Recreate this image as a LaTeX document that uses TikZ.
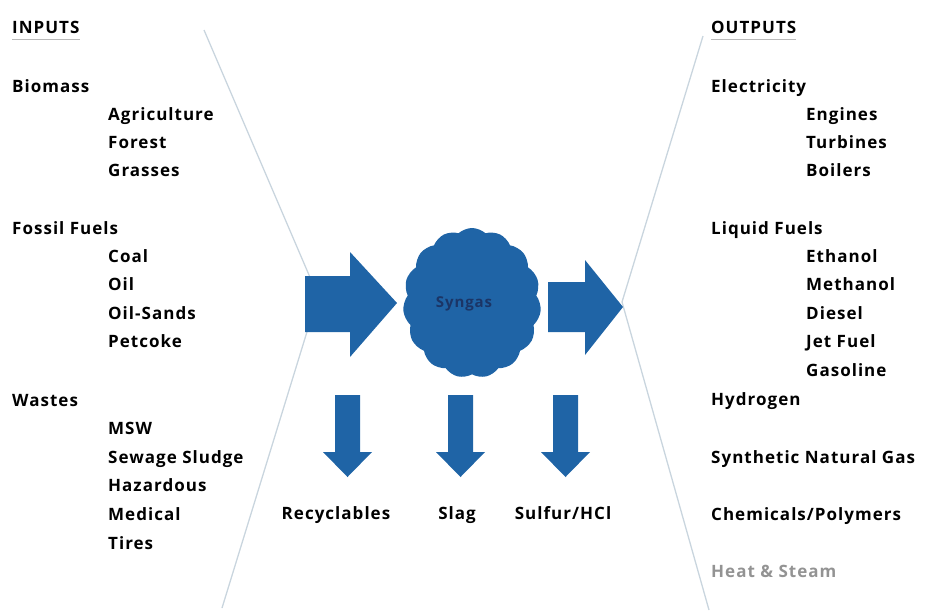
\documentclass[tikz,border=0pt]{standalone}
\usepackage{fontspec}
\setmainfont{Open Sans}[UprightFont=* Bold, LetterSpace=6]
\usetikzlibrary{shapes.symbols}
\definecolor{flowblue}{HTML}{1F64A6}
\definecolor{guide}{HTML}{C9D5DE}
\definecolor{navy}{HTML}{1B3566}
\tikzset{
  lbl/.style={anchor=west, inner sep=0pt, text height=12pt, text depth=0pt,
              font=\fontsize{17}{19}\selectfont, text=black},
  guideline/.style={draw=guide, line width=1.3pt},
  blockarrow/.style={fill=flowblue, draw=none},
  headline/.style={lbl, text=black},
  uline/.style={draw=gray!55, line width=1.2pt}
}
\begin{document}
\begin{tikzpicture}[x=1pt,y=-1pt]
\useasboundingbox (0,0) rectangle (925,614);
% guide lines
\coordinate (LT) at (204,30);
\coordinate (LM) at (318,296);
\coordinate (LB) at (222,608);
\coordinate (RT) at (703,36);
\coordinate (RM) at (622,302);
\coordinate (RB) at (709,610);
\draw[guideline] (LT) -- (LM) -- (LB);
\draw[guideline] (RT) -- (RM) -- (RB);

% left inputs
\node[headline] (inputs) at (12,27) {INPUTS};
\draw[uline] ([yshift=-6pt]inputs.south west) -- ([yshift=-6pt]inputs.south east);
\node[lbl] (biomass) at (12,86) {Biomass};
\node[lbl] (agri) at (108,114) {Agriculture};
\node[lbl] (forest) at (108,142) {Forest};
\node[lbl] (grass) at (108,170) {Grasses};
\node[lbl] (fossil) at (12,228) {Fossil Fuels};
\node[lbl] (coal) at (108,256) {Coal};
\node[lbl] (oil) at (108,284) {Oil};
\node[lbl] (oilsands) at (108,313) {Oil-Sands};
\node[lbl] (petcoke) at (108,341) {Petcoke};
\node[lbl] (wastes) at (12,400) {Wastes};
\node[lbl] (msw) at (108,428) {MSW};
\node[lbl] (sewage) at (108,457) {Sewage Sludge};
\node[lbl] (haz) at (108,485) {Hazardous};
\node[lbl] (med) at (108,514) {Medical};
\node[lbl] (tires) at (108,543) {Tires};

% right outputs
\node[headline] (outputs) at (711,27) {OUTPUTS};
\draw[uline] ([yshift=-6pt]outputs.south west) -- ([yshift=-6pt]outputs.south east);
\node[lbl] (elec) at (711,86) {Electricity};
\node[lbl] (engines) at (806,114) {Engines};
\node[lbl] (turb) at (806,142) {Turbines};
\node[lbl] (boil) at (806,170) {Boilers};
\node[lbl] (liquid) at (711,228) {Liquid Fuels};
\node[lbl] (ethanol) at (806,256) {Ethanol};
\node[lbl] (methanol) at (806,284) {Methanol};
\node[lbl] (diesel) at (806,313) {Diesel};
\node[lbl] (jet) at (806,341) {Jet Fuel};
\node[lbl] (gasoline) at (806,370) {Gasoline};
\node[lbl] (hydrogen) at (711,399) {Hydrogen};
\node[lbl] (sng) at (711,457) {Synthetic Natural Gas};
\node[lbl] (chem) at (711,514) {Chemicals/Polymers};
\node[lbl, text=gray!85] (heat) at (711,571) {Heat \& Steam};

% cloud
\node[cloud, cloud puffs=15, cloud puff arc=85, aspect=0.92, fill=flowblue, draw=none,
      minimum width=138pt, minimum height=150pt, inner sep=0pt] (syngas) at (472,303) {};
\node[text=navy, font=\fontsize{15}{17}\selectfont, inner sep=0pt] (syntext) at (464,304) {Syngas};

% horizontal arrows
\fill[blockarrow] (305,276) -- (350,276) -- (350,252) -- (397,303) -- (350,357) -- (350,332) -- (305,332) -- cycle;
\fill[blockarrow] (548,282) -- (585,282) -- (585,260) -- (623,307) -- (585,355) -- (585,332) -- (548,332) -- cycle;

% down arrows
\foreach \cx/\nm in {347.5/da, 460.5/db, 565.5/dc}{
  \fill[blockarrow] (\cx-12.5,395) -- (\cx+12.5,395) -- (\cx+12.5,452) -- (\cx+24.5,452) -- (\cx,477) -- (\cx-24.5,452) -- (\cx-12.5,452) -- cycle;
}
\node[lbl, anchor=center] (recy) at (336,513) {Recyclables};
\node[lbl, anchor=center] (slag) at (457,513) {Slag};
\node[lbl, anchor=center] (sulfur) at (563,513) {Sulfur/HCl};
\end{tikzpicture}
\end{document}
